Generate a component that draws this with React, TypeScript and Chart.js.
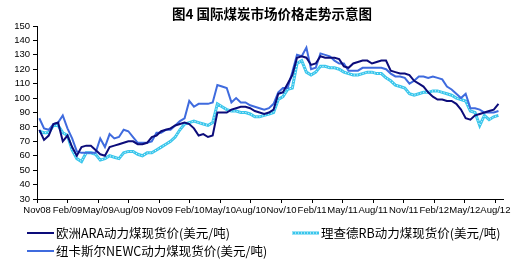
import { useEffect, useRef } from "react";
import { Chart, registerables } from "chart.js";

Chart.register(...registerables);

const titleText = "图4 国际煤炭市场价格走势示意图";

const quarterLabels = [
  "Nov08", "Feb/09", "May/09", "Aug/09", "Nov09", "Feb/10", "May/10", "Aug/10",
  "Nov/10", "Feb/11", "May/11", "Aug/11", "Nov/11", "Feb/12", "May/12", "Aug/12",
];

const seriesNames = [
  "欧洲ARA动力煤现货价(美元/吨)",
  "理查德RB动力煤现货价(美元/吨)",
  "纽卡斯尔NEWC动力煤现货价(美元/吨)",
];

// observation dates: week number counted from 1 Nov 2008 (every two weeks)
const weekNumbers = Array.from({ length: 99 }, (_, i) => 1 + 2 * i);

const araValues = [
  78, 71, 74, 82, 83, 70, 74, 66, 60, 66,
  67, 67, 64, 61, 60, 66, 67, 68, 69, 70,
  70, 68, 68, 69, 73, 74, 77, 78, 79, 81,
  82, 83, 82, 79, 74, 75, 73, 74, 90, 90,
  90, 92, 93, 94, 94, 93, 91, 90, 89, 90,
  92, 103, 104, 110, 116, 128, 129, 128, 123, 124,
  129, 128, 128, 128, 127, 122, 121, 124, 125, 126,
  126, 124, 125, 126, 126, 119, 118, 117, 117, 116,
  112, 110, 108, 104, 101, 99, 99, 98, 98, 96,
  92, 86, 85, 88, 89, 90, 91, 92, 96,
];

const newcValues = [
  86, 79, 78, 82, 83, 88, 79, 72, 63, 62,
  62, 62, 62, 72, 66, 75, 72, 73, 78, 77,
  73, 69, 69, 69, 70, 76, 76, 78, 78, 81,
  84, 86, 98, 94, 96, 96, 96, 97, 109, 108,
  107, 97, 100, 97, 97, 95, 94, 93, 92, 93,
  96, 104, 107, 107, 118, 130, 129, 135, 120, 121,
  131, 130, 129, 126, 124, 124, 119, 119, 119, 121,
  121, 121, 121, 121, 120, 117, 115, 115, 114, 110,
  112, 115, 115, 114, 115, 114, 113, 108, 106, 103,
  100, 103, 93, 93, 92, 90, 90, 90, 91,
];

const rbValues = [
  77, 76, 76, 81, 81, 76, 74, 64, 58, 56,
  62, 62, 61, 57, 58, 60, 59, 58, 62, 63,
  63, 61, 60, 62, 62, 64, 66, 68, 70, 73,
  78, 82, 83, 84, 83, 82, 81, 83, 96, 94,
  92, 91, 91, 90, 90, 89, 87, 87, 88, 89,
  90, 99, 101, 106, 107, 124, 126, 118, 116, 118,
  122, 122, 121, 121, 120, 118, 117, 116, 116, 117,
  118, 118, 117, 117, 114, 112, 109, 108, 107, 103,
  102, 103, 104, 104, 105, 105, 104, 103, 102, 100,
  99, 98, 91, 90, 81, 88, 85, 87, 88,
];

const MONTHS_PER_WEEK = 12 / 52.18;

const ARA_COLOR = "#0C0C7A";
const NEWC_COLOR = "#3F6BDE";
const RB_COLOR = "#39C6EC";

export default function App() {
  const ref = useRef<HTMLCanvasElement | null>(null);

  useEffect(() => {
    document.body.style.margin = "0";
    const toPts = (vals: number[]) =>
      vals.map((v, i) => ({ x: weekNumbers[i] * MONTHS_PER_WEEK, y: v }));

    const overlay = {
      id: "overlay",
      afterDraw(chart: any) {
        const ctx = chart.ctx as CanvasRenderingContext2D;
        ctx.save();
        ctx.fillStyle = "#000";
        ctx.font = "bold 13.5px 'Noto Sans CJK SC'";
        ctx.textAlign = "center";
        ctx.textBaseline = "middle";
        ctx.fillText(titleText, 272, 14);

        const items = [
          { x: 27, y: 233, name: seriesNames[0], color: ARA_COLOR, dotted: false },
          { x: 292, y: 233, name: seriesNames[1], color: RB_COLOR, dotted: true },
          { x: 27, y: 251, name: seriesNames[2], color: NEWC_COLOR, dotted: false },
        ];
        ctx.font = "12.5px 'Noto Sans CJK SC'";
        ctx.textAlign = "left";
        for (const it of items) {
          ctx.beginPath();
          ctx.strokeStyle = it.color;
          ctx.lineWidth = it.dotted ? 3 : 2;
          ctx.moveTo(it.x, it.y);
          ctx.lineTo(it.x + 27, it.y);
          ctx.stroke();
          if (it.dotted) {
            ctx.beginPath();
            ctx.setLineDash([1, 2]);
            ctx.strokeStyle = "#ffffff";
            ctx.lineWidth = 1;
            ctx.moveTo(it.x, it.y);
            ctx.lineTo(it.x + 27, it.y);
            ctx.stroke();
            ctx.setLineDash([]);
          }
          ctx.fillStyle = "#000";
          ctx.fillText(it.name, it.x + 29, it.y);
        }
        ctx.restore();
      },
    };

    const chart = new Chart(ref.current as HTMLCanvasElement, {
      type: "line",
      data: {
        datasets: [
          {
            label: seriesNames[0],
            data: toPts(araValues),
            borderColor: ARA_COLOR,
            borderWidth: 2,
            pointRadius: 0,
            tension: 0,
            order: 1,
          },
          {
            label: seriesNames[1],
            data: toPts(rbValues),
            borderColor: RB_COLOR,
            borderWidth: 3,
            pointRadius: 0,
            tension: 0,
            order: 4,
          },
          {
            label: "rb-dots",
            data: toPts(rbValues),
            borderColor: "#ffffff",
            borderWidth: 1,
            borderDash: [1, 2],
            pointRadius: 0,
            tension: 0,
            order: 3,
          },
          {
            label: seriesNames[2],
            data: toPts(newcValues),
            borderColor: NEWC_COLOR,
            borderWidth: 2,
            pointRadius: 0,
            tension: 0,
            order: 2,
          },
        ],
      },
      options: {
        animation: false,
        responsive: false,
        events: [],
        layout: { padding: { top: 26, right: 16, bottom: 45, left: 0 } },
        plugins: {
          legend: { display: false },
          title: { display: false },
          tooltip: { enabled: false },
        },
        scales: {
          x: {
            type: "linear",
            min: 0,
            max: 45.75,
            afterBuildTicks: (s: any) => {
              s.ticks = quarterLabels.map((_, k) => ({ value: 3 * k }));
            },
            afterFit: (s: any) => {
              s.height = 20;
            },
            ticks: {
              autoSkip: false,
              maxRotation: 0,
              minRotation: 0,
              padding: 2,
              color: "#000",
              font: { family: "'Liberation Sans'", size: 9.5 },
              callback: (v: any) => quarterLabels[Math.round(Number(v) / 3)] ?? "",
            },
            grid: { drawOnChartArea: false, tickLength: 4, color: "#000" },
            border: { color: "#000", width: 1 },
          },
          y: {
            min: 30,
            max: 150,
            afterFit: (s: any) => {
              s.width = 37;
            },
            ticks: {
              stepSize: 10,
              autoSkip: false,
              padding: 3,
              color: "#000",
              font: { family: "'Liberation Sans'", size: 9.5 },
            },
            grid: { drawOnChartArea: false, tickLength: 4, color: "#000" },
            border: { color: "#000", width: 1 },
          },
        },
      },
      plugins: [overlay],
    });

    return () => chart.destroy();
  }, []);

  return <canvas ref={ref} width={519} height={264} style={{ display: "block" }} />;
}
